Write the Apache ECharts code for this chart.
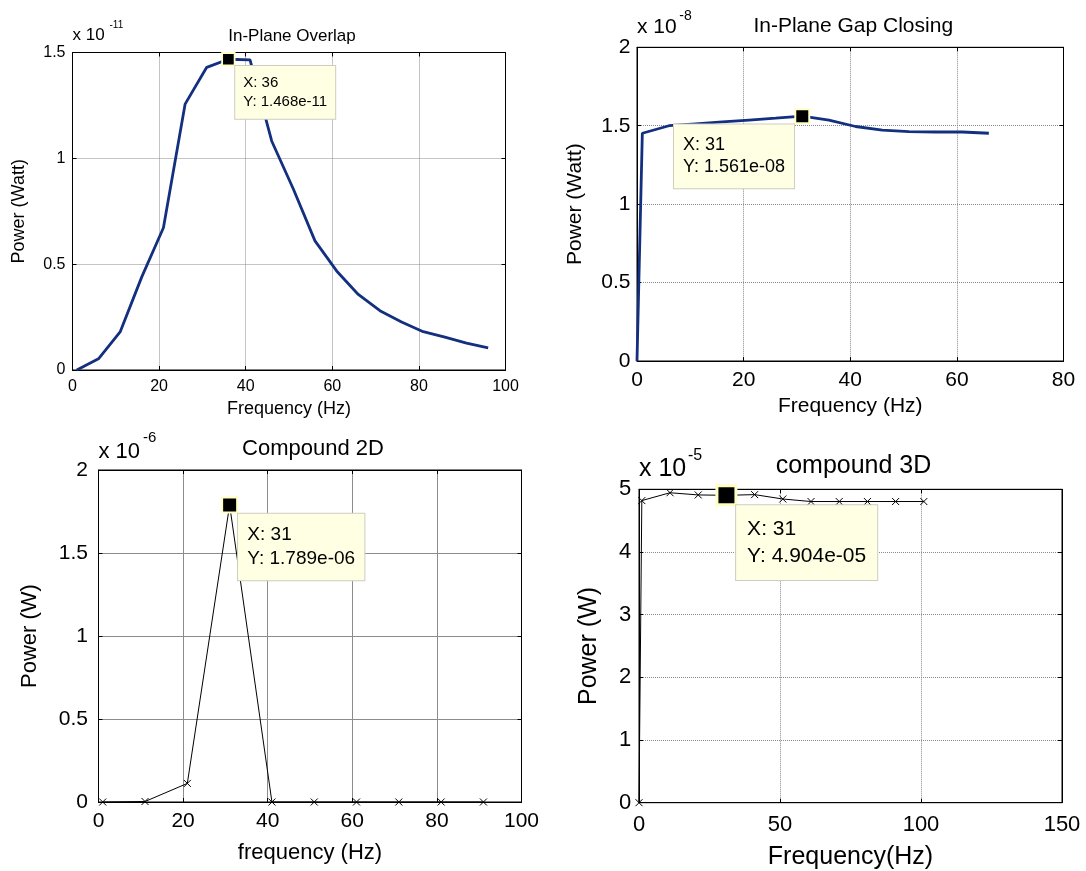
<!DOCTYPE html>
<html>
<head>
<meta charset="utf-8">
<script src="https://cdn.jsdelivr.net/npm/echarts@6/dist/echarts.min.js"></script>
<style>
html, body { margin: 0; padding: 0; background: #ffffff; }
#chart { width: 1086px; height: 871px; }
</style>
</head>
<body>
<div id="chart"></div>
<script>
// ---------------- DATA ----------------
// Panel 1: In-Plane Overlap (power in units of 1e-11 W)
const p1Freq  = [1, 6, 11, 16, 21, 26, 31, 36, 41, 46, 51, 56, 61, 66, 71, 76, 81, 86, 91, 96];
const p1Power = [0.0, 0.053, 0.18, 0.44, 0.672, 1.256, 1.43, 1.468, 1.465, 1.082, 0.855, 0.61, 0.468, 0.357, 0.28, 0.227, 0.181, 0.155, 0.127, 0.105];
const p1Cursor = [36, 1.468];
const p1XTicks = [0, 20, 40, 60, 80, 100];
const p1YTicks = [0, 0.5, 1, 1.5];

// Panel 2: In-Plane Gap Closing (units of 1e-8 W)
const p2Freq  = [0, 1, 6, 11, 16, 21, 26, 31, 36, 41, 46, 51, 56, 61, 66];
const p2Power = [0, 1.452, 1.5, 1.512, 1.524, 1.536, 1.548, 1.561, 1.535, 1.495, 1.472, 1.462, 1.46, 1.46, 1.452];
const p2Cursor = [31, 1.561];
const p2XTicks = [0, 20, 40, 60, 80];
const p2YTicks = [0, 0.5, 1, 1.5, 2];

// Panel 3: Compound 2D (units of 1e-6 W)
const p3Freq  = [1, 11, 21, 31, 41, 51, 61, 71, 81, 91];
const p3Power = [0, 0.003, 0.112, 1.789, 0, 0, 0, 0, 0, 0];
const p3Cursor = [31, 1.789];
const p3XTicks = [0, 20, 40, 60, 80, 100];
const p3YTicks = [0, 0.5, 1, 1.5, 2];

// Panel 4: compound 3D (units of 1e-5 W)
const p4Freq  = [0, 1, 11, 21, 31, 41, 51, 61, 71, 81, 91, 101];
const p4Power = [0, 4.82, 4.945, 4.91, 4.904, 4.915, 4.845, 4.805, 4.805, 4.805, 4.805, 4.805];
const p4Cursor = [31, 4.904];
const p4XTicks = [0, 50, 100, 150];
const p4YTicks = [0, 1, 2, 3, 4, 5];

const titles    = ['In-Plane Overlap', 'In-Plane Gap Closing', 'Compound 2D', 'compound 3D'];
const xNames    = ['Frequency (Hz)', 'Frequency (Hz)', 'frequency (Hz)', 'Frequency(Hz)'];
const yNames    = ['Power (Watt)', 'Power (Watt)', 'Power (W)', 'Power (W)'];
const exponents = [-11, -8, -6, -5];

// ---------------- LAYOUT / STYLE ----------------
const FONT = "'Liberation Sans', Arial, Helvetica, sans-serif";
const NAVY = '#12307f';

const layouts = [
  { l: 72.5, r: 505.5, t: 52.5, b: 370, tickFs: 16, nameFs: 18, titleFs: 17, titleTop: 22.7,
    xMargin: 9, yMargin: 7, xGap: 30, yGap: 44.6,
    expFs: 17, supFs: 10, expY: 35.8, supY: 25, supDx: 37,
    line: { color: NAVY, width: 2.8 }, marker: false, grid: { color: '#8a8a8a', type: 'dotted' },
    mk: 12.5, mkb: 1.8, boxPos: [14, 14], boxFs: 15, boxLh: 19.3, boxPad: [7, 8, 7, 8] },
  { l: 637, r: 1063.5, t: 47.3, b: 361, tickFs: 21, nameFs: 21, titleFs: 21, titleTop: 10.3,
    xMargin: 8.5, yMargin: 6.5, xGap: 35, yGap: 51.7,
    expFs: 21, supFs: 14, expY: 27.5, supY: 15.8, supDx: 42.3,
    line: { color: NAVY, width: 2.8 }, marker: false, grid: { color: '#8a8a8a', type: 'dotted' },
    mk: 14, mkb: 2, boxPos: [-120.3, 16.4], boxFs: 18, boxLh: 22.3, boxPad: [9.5, 9, 9.5, 9] },
  { l: 98.5, r: 521.5, t: 470, b: 802, tickFs: 21, nameFs: 22, titleFs: 22, titleTop: 432.8,
    xMargin: 9, yMargin: 10.5, xGap: 40, yGap: 57.7,
    expFs: 22, supFs: 15, expY: 451.7, supY: 437.5, supDx: 44.4,
    line: { color: '#000', width: 1 }, marker: true, grid: { color: '#8c8c8c', type: 'solid' },
    mk: 15, mkb: 2, boxPos: [16.9, 17.2], boxFs: 19, boxLh: 24, boxPad: [9.3, 9.3, 9.3, 9.3] },
  { l: 639, r: 1062, t: 489.3, b: 802.7, tickFs: 22, nameFs: 25, titleFs: 25, titleTop: 448.3,
    xMargin: 11, yMargin: 7.8, xGap: 41.5, yGap: 37.8,
    expFs: 25, supFs: 16, expY: 469.2, supY: 455.8, supDx: 49,
    line: { color: '#000', width: 1 }, marker: true, grid: { color: '#8a8a8a', type: 'dotted' },
    mk: 19, mkb: 3, boxPos: [20.7, 21], boxFs: 21, boxLh: 27.3, boxPad: [10, 11, 10, 11] }
];

const panels = [
  { freq: p1Freq, power: p1Power, cursor: p1Cursor, xt: p1XTicks, yt: p1YTicks },
  { freq: p2Freq, power: p2Power, cursor: p2Cursor, xt: p2XTicks, yt: p2YTicks },
  { freq: p3Freq, power: p3Power, cursor: p3Cursor, xt: p3XTicks, yt: p3YTicks },
  { freq: p4Freq, power: p4Power, cursor: p4Cursor, xt: p4XTicks, yt: p4YTicks }
];

function expStr(e) {
  const s = e < 0 ? '-' : '+';
  const a = Math.abs(e);
  return s + (a < 10 ? '0' + a : '' + a);
}

const CROSS = 'path://M0,0L10,10M10,0L0,10';

const option = {
  backgroundColor: '#ffffff',
  animation: false,
  title: [], grid: [], xAxis: [], yAxis: [], series: [], graphic: []
};

panels.forEach((p, i) => {
  const L = layouts[i];
  const xMin = p.xt[0], xMax = p.xt[p.xt.length - 1], xInt = p.xt[1] - p.xt[0];
  const yMin = p.yt[0], yMax = p.yt[p.yt.length - 1], yInt = p.yt[1] - p.yt[0];

  option.grid.push({ left: L.l, top: L.t, width: L.r - L.l, height: L.b - L.t,
    show: true, borderColor: '#000', borderWidth: 1, backgroundColor: '#fff', containLabel: false });

  option.title.push({ text: titles[i], left: (L.l + L.r) / 2 - 2, top: L.titleTop, textAlign: 'center',
    textStyle: { fontFamily: FONT, fontSize: L.titleFs, fontWeight: 'normal', color: '#000' } });

  const tick = { show: true, inside: true, length: 4, lineStyle: { color: '#000', width: 1 } };
  const axLine = { show: true, onZero: false, lineStyle: { color: '#000', width: 1 } };

  // main bottom x axis
  option.xAxis.push({
    type: 'value', gridIndex: i, position: 'bottom', min: xMin, max: xMax, interval: xInt,
    axisLine: axLine, axisTick: tick,
    axisLabel: { show: true, margin: L.xMargin, fontFamily: FONT, fontSize: L.tickFs, color: '#000' },
    splitLine: { show: true, lineStyle: { color: L.grid.color, type: L.grid.type, width: 1 } },
    name: xNames[i], nameLocation: 'middle', nameGap: L.xGap, nameMoveOverlap: false,
    nameTextStyle: { fontFamily: FONT, fontSize: L.nameFs, color: '#000' }
  });
  // top x axis (box ticks)
  option.xAxis.push({
    type: 'value', gridIndex: i, position: 'top', min: xMin, max: xMax, interval: xInt,
    axisLine: axLine, axisTick: tick, axisLabel: { show: false }, splitLine: { show: false }
  });
  // main left y axis
  option.yAxis.push({
    type: 'value', gridIndex: i, position: 'left', min: yMin, max: yMax, interval: yInt,
    axisLine: axLine, axisTick: tick,
    axisLabel: { show: true, margin: L.yMargin, fontFamily: FONT, fontSize: L.tickFs, color: '#000' },
    splitLine: { show: true, lineStyle: { color: L.grid.color, type: L.grid.type, width: 1 } },
    name: yNames[i], nameLocation: 'middle', nameGap: L.yGap, nameRotate: 90, nameMoveOverlap: false,
    nameTextStyle: { fontFamily: FONT, fontSize: L.nameFs, color: '#000' }
  });
  // right y axis (box ticks)
  option.yAxis.push({
    type: 'value', gridIndex: i, position: 'right', min: yMin, max: yMax, interval: yInt,
    axisLine: axLine, axisTick: tick, axisLabel: { show: false }, splitLine: { show: false }
  });

  const label = 'X: ' + p.cursor[0] + '\nY: ' + p.cursor[1].toFixed(3) + 'e' + expStr(exponents[i]);

  option.series.push({
    type: 'line', xAxisIndex: 2 * i, yAxisIndex: 2 * i,
    data: p.freq.map((f, k) => [f, p.power[k]]),
    showSymbol: L.marker, symbol: L.marker ? CROSS : 'none', symbolSize: 7,
    itemStyle: { color: 'rgba(0,0,0,0)', borderColor: '#000', borderWidth: 1 },
    lineStyle: { color: L.line.color, width: L.line.width },
    emphasis: { disabled: true }, silent: true, clip: false,
    markPoint: {
      silent: true, animation: false,
      symbol: 'rect', symbolSize: L.mk,
      itemStyle: { color: '#000', borderColor: '#ffffc4', borderWidth: L.mkb },
      label: {
        show: true, position: L.boxPos, align: 'left', verticalAlign: 'top',
        formatter: label, fontFamily: FONT, fontSize: L.boxFs, lineHeight: L.boxLh, color: '#000',
        backgroundColor: '#ffffe3', borderColor: '#cdcdc0', borderWidth: 1, padding: L.boxPad
      },
      data: [{ coord: p.cursor }]
    }
  });

  // "x 10^n" multiplier
  option.graphic.push({
    type: 'text', x: L.l, y: L.expY, silent: true,
    style: { text: 'x 10', fontFamily: FONT, fontSize: L.expFs, fill: '#000',
      align: 'left', verticalAlign: 'middle', textAlign: 'left', textVerticalAlign: 'middle' }
  });
  option.graphic.push({
    type: 'text', x: L.l + L.supDx, y: L.supY, silent: true,
    style: { text: String(exponents[i]), fontFamily: FONT, fontSize: L.supFs, fill: '#000',
      align: 'left', verticalAlign: 'middle', textAlign: 'left', textVerticalAlign: 'middle' }
  });
});

const chart = echarts.init(document.getElementById('chart'), null, { renderer: 'canvas' });
chart.setOption(option);
</script>
</body>
</html>
